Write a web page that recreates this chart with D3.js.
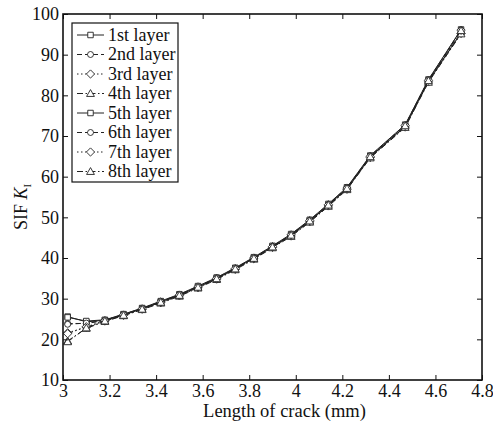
<!DOCTYPE html>
<html>
<head>
<meta charset="utf-8">
<script src="https://cdn.jsdelivr.net/npm/d3@7"></script>
<style>
  body { margin: 0; background: #fff; }
  svg text { font-family: "Liberation Serif", "Times New Roman", Times, serif !important; }
</style>
</head>
<body>
<div id="chart"></div>
<script>
// crack length (mm)
var crackLen = [3.02, 3.10, 3.18, 3.26, 3.34, 3.42, 3.50, 3.58, 3.66, 3.74,
                3.82, 3.90, 3.98, 4.06, 4.14, 4.22, 4.32, 4.47, 4.57, 4.71];

// SIF K_I per layer
var layer1 = [25.6, 24.3, 24.7, 26.1, 27.6, 29.2, 30.9, 32.9, 35.0, 37.4, 40.0, 42.8, 45.6, 49.1, 53.0, 57.1, 64.9, 72.4, 83.5, 95.4];
var layer2 = [23.9, 23.9, 24.6, 26.0, 27.5, 29.1, 30.8, 32.8, 34.9, 37.3, 39.9, 42.7, 45.5, 49.0, 52.9, 57.0, 64.8, 72.3, 83.4, 95.3];
var layer3 = [21.6, 23.0, 24.5, 25.9, 27.4, 29.0, 30.7, 32.7, 34.8, 37.2, 39.8, 42.6, 45.4, 48.9, 52.8, 56.9, 64.7, 72.2, 83.3, 95.2];
var layer4 = [19.6, 22.7, 24.4, 25.8, 27.3, 28.9, 30.6, 32.6, 34.7, 37.1, 39.7, 42.5, 45.3, 48.8, 52.7, 56.8, 64.6, 72.1, 83.2, 95.1];
var layer5 = [25.4, 24.5, 24.8, 26.2, 27.7, 29.4, 31.1, 33.1, 35.2, 37.6, 40.2, 43.0, 45.9, 49.4, 53.3, 57.4, 65.2, 72.8, 83.9, 96.2];
var layer6 = [23.7, 24.0, 24.7, 26.1, 27.6, 29.3, 31.0, 33.0, 35.1, 37.5, 40.1, 42.9, 45.8, 49.3, 53.2, 57.3, 65.1, 72.7, 83.8, 96.1];
var layer7 = [21.4, 23.1, 24.6, 26.0, 27.5, 29.2, 30.9, 32.9, 35.0, 37.4, 40.0, 42.8, 45.7, 49.2, 53.1, 57.2, 65.0, 72.6, 83.7, 96.0];
var layer8 = [19.4, 22.8, 24.5, 25.9, 27.4, 29.1, 30.8, 32.8, 34.9, 37.3, 39.9, 42.7, 45.6, 49.1, 53.0, 57.1, 64.9, 72.5, 83.6, 95.9];

var layerNames = ["1st layer", "2nd layer", "3rd layer", "4th layer",
                  "5th layer", "6th layer", "7th layer", "8th layer"];
var layerData = [layer1, layer2, layer3, layer4, layer5, layer6, layer7, layer8];

var xTicks = [3, 3.2, 3.4, 3.6, 3.8, 4, 4.2, 4.4, 4.6, 4.8];
var yTicks = [10, 20, 30, 40, 50, 60, 70, 80, 90, 100];

// set the dimensions and margins of the graph
var margin = {top: 14, right: 11, bottom: 43, left: 63},
    width = 493 - margin.left - margin.right,
    height = 423 - margin.top - margin.bottom;

var svg = d3.select("#chart")
  .append("svg")
    .attr("width", 493)
    .attr("height", 423)
  .append("g")
    .attr("transform", "translate(" + margin.left + "," + margin.top + ")");

var x = d3.scaleLinear().domain([3, 4.8]).range([0, width]);
var y = d3.scaleLinear().domain([10, 100]).range([height, 0]);

// line style / marker per layer (pattern repeats every 4 layers)
var dashes = ["none", "5,3", "1.5,2.5", "6,2.5,1.5,2.5"];

var diamond = {
  draw: function(ctx, size) {
    var r = Math.sqrt(size / 2);
    ctx.moveTo(0, -r); ctx.lineTo(r, 0); ctx.lineTo(0, r); ctx.lineTo(-r, 0); ctx.closePath();
  }
};
var triangle = {
  draw: function(ctx, size) {
    var r = Math.sqrt(size) * 0.62;
    ctx.moveTo(0, -r); ctx.lineTo(r, r * 0.75); ctx.lineTo(-r, r * 0.75); ctx.closePath();
  }
};
var markers = [
  d3.symbol().type(d3.symbolSquare).size(30),
  d3.symbol().type(d3.symbolCircle).size(28),
  d3.symbol().type(diamond).size(34),
  d3.symbol().type(triangle).size(40)
];

var line = d3.line()
  .x(function(d, i) { return x(crackLen[i]); })
  .y(function(d) { return y(d); });

layerData.forEach(function(vals, k) {
  var g = svg.append("g");
  g.append("path")
    .datum(vals)
    .attr("d", line)
    .attr("fill", "none")
    .attr("stroke", "#222")
    .attr("stroke-width", 1)
    .attr("stroke-dasharray", dashes[k % 4]);
  g.selectAll("path.mk")
    .data(vals)
    .enter()
    .append("path")
      .attr("class", "mk")
      .attr("d", markers[k % 4])
      .attr("transform", function(d, i) { return "translate(" + x(crackLen[i]) + "," + y(d) + ")"; })
      .attr("fill", "#fff")
      .attr("stroke", "#222")
      .attr("stroke-width", 0.9);
});

// axes with inward ticks on all sides
var tk = 5;
svg.append("g")
  .attr("transform", "translate(0," + height + ")")
  .call(d3.axisBottom(x).tickValues(xTicks).tickSizeInner(-tk).tickSizeOuter(0).tickPadding(4)
    .tickFormat(function(d) { return d3.format("")(+d.toFixed(1)); }))
  .call(function(g) { g.select(".domain").remove(); })
  .selectAll("text").style("font-size", "18px").attr("fill", "#111");

svg.append("g")
  .call(d3.axisLeft(y).tickValues(yTicks).tickSizeInner(-tk).tickSizeOuter(0).tickPadding(4))
  .call(function(g) { g.select(".domain").remove(); })
  .selectAll("text").style("font-size", "18px").attr("fill", "#111");

svg.append("g")
  .call(d3.axisTop(x).tickValues(xTicks).tickSizeInner(-tk).tickSizeOuter(0).tickFormat(""))
  .call(function(g) { g.select(".domain").remove(); });

svg.append("g")
  .attr("transform", "translate(" + width + ",0)")
  .call(d3.axisRight(y).tickValues(yTicks).tickSizeInner(-tk).tickSizeOuter(0).tickFormat(""))
  .call(function(g) { g.select(".domain").remove(); });

svg.selectAll(".tick line").attr("stroke", "#111");

// box
svg.append("rect")
  .attr("width", width)
  .attr("height", height)
  .attr("fill", "none")
  .attr("stroke", "#111")
  .attr("stroke-width", 1.6);

// axis labels
svg.append("text")
  .attr("x", width / 2 + 12)
  .attr("y", height + 37)
  .attr("text-anchor", "middle")
  .attr("fill", "#111")
  .style("font-size", "18.5px")
  .text("Length of crack (mm)");

var yl = svg.append("text")
  .attr("transform", "translate(-36," + (height / 2 + 10) + ")rotate(-90)")
  .attr("text-anchor", "middle")
  .attr("fill", "#111")
  .style("font-size", "18px");
yl.append("tspan").text("SIF ");
yl.append("tspan").style("font-style", "italic").text("K");
yl.append("tspan").attr("dy", 4).style("font-size", "11px").text("I");

// legend
var lg = svg.append("g").attr("transform", "translate(" + (72 - margin.left) + "," + (23 - margin.top) + ")");
lg.append("rect")
  .attr("width", 106)
  .attr("height", 159)
  .attr("fill", "#fff")
  .attr("stroke", "#111")
  .attr("stroke-width", 1.2);

layerNames.forEach(function(name, k) {
  var cy = 12 + k * 19.5;
  lg.append("line")
    .attr("x1", 5).attr("x2", 32)
    .attr("y1", cy).attr("y2", cy)
    .attr("stroke", "#222")
    .attr("stroke-width", 1)
    .attr("stroke-dasharray", dashes[k % 4]);
  lg.append("path")
    .attr("d", markers[k % 4])
    .attr("transform", "translate(18.5," + cy + ")")
    .attr("fill", "#fff")
    .attr("stroke", "#222")
    .attr("stroke-width", 0.9);
  lg.append("text")
    .attr("x", 36)
    .attr("y", cy + 5.5)
    .attr("fill", "#111")
    .style("font-size", "18px")
    .text(name);
});
</script>
</body>
</html>
